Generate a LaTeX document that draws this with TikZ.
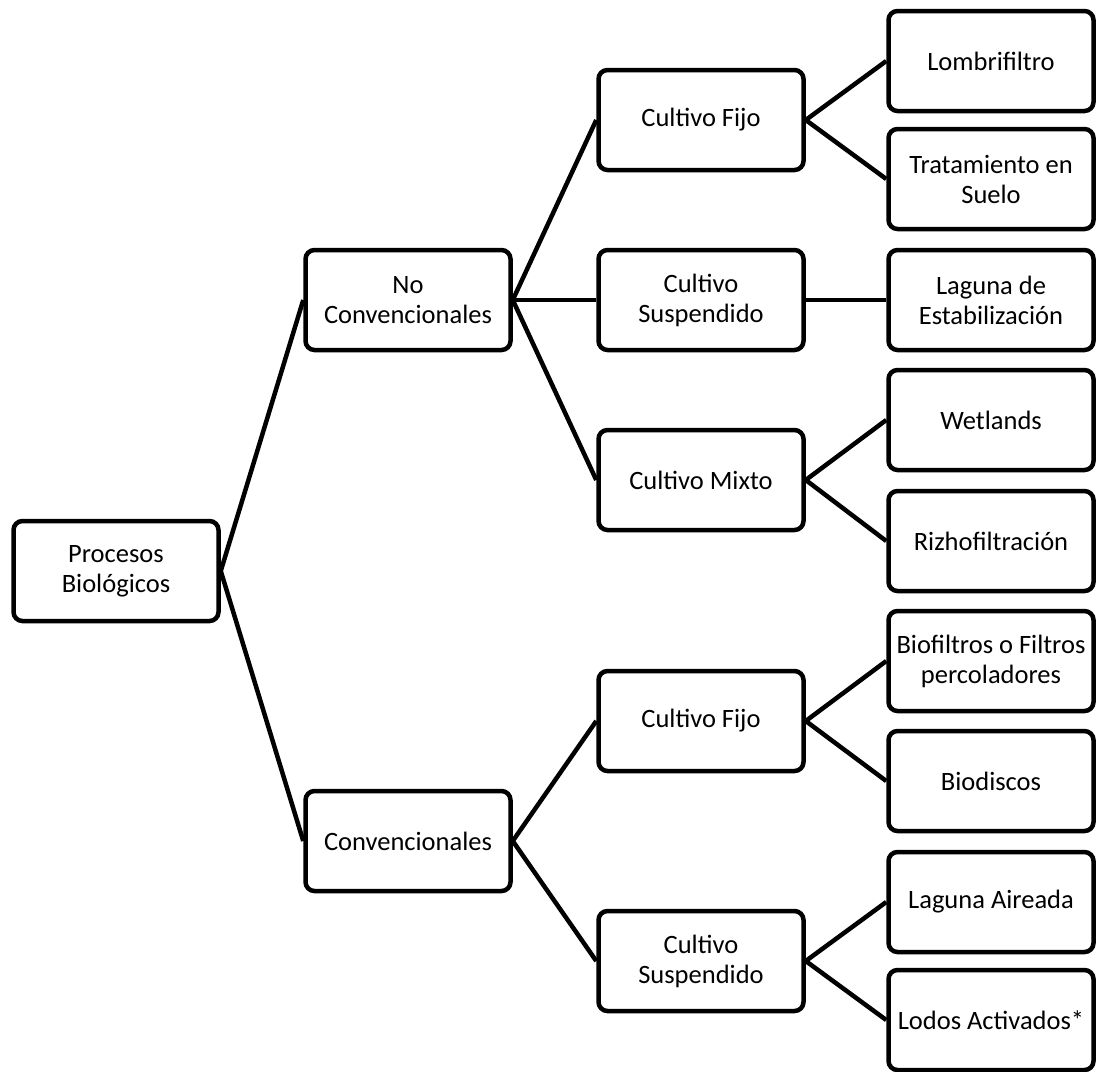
\documentclass[tikz,border=0pt]{standalone}
\usepackage{fontspec}
\setmainfont{Carlito}
\begin{document}
\begin{tikzpicture}[x=1pt,y=-1pt,
  box/.style={draw=black, line width=4.5pt, rounded corners=9pt, fill=white,
    minimum width=205pt, minimum height=100pt, align=center,
    font=\fontsize{26.5}{30}\selectfont, inner sep=2pt},
  link/.style={line width=4.5pt}]
\useasboundingbox (0,0) rectangle (1097,1071);
\fill[white] (0,0) rectangle (1097,1071);

% root and first level
\node[box] (root) at (116,571) {Procesos\\Biológicos};
\node[box] (noconv) at (408,300) {No\\Convencionales};
\node[box] (conv) at (408,841) {Convencionales};

% second level
\node[box] (fijoA) at (701,120) {Cultivo Fijo};
\node[box] (suspA) at (701,300) {Cultivo\\Suspendido};
\node[box] (mixto) at (701,480) {Cultivo Mixto};
\node[box] (fijoB) at (701,721) {Cultivo Fijo};
\node[box] (suspB) at (701,961) {Cultivo\\Suspendido};

% leaves
\node[box] (lombri) at (991,61) {Lombrifiltro};
\node[box] (suelo) at (991,179) {Tratamiento en\\Suelo};
\node[box] (laguna) at (991,300) {Laguna de\\Estabilización};
\node[box] (wet) at (991,420) {Wetlands};
\node[box] (rizho) at (991,541) {Rizhofiltración};
\node[box] (biofil) at (991,661) {Biofiltros o Filtros\\percoladores};
\node[box] (biodis) at (991,781) {Biodiscos};
\node[box] (aireada) at (991,902) {Laguna Aireada};
\node[box] (lodos) at (991,1020) {Lodos Activados*};

% connectors
\foreach \a/\b in {root/noconv, root/conv,
    noconv/fijoA, noconv/suspA, noconv/mixto,
    conv/fijoB, conv/suspB,
    fijoA/lombri, fijoA/suelo, suspA/laguna,
    mixto/wet, mixto/rizho,
    fijoB/biofil, fijoB/biodis,
    suspB/aireada, suspB/lodos}
  \draw[link] (\a.east) -- (\b.west);
\end{tikzpicture}
\end{document}
